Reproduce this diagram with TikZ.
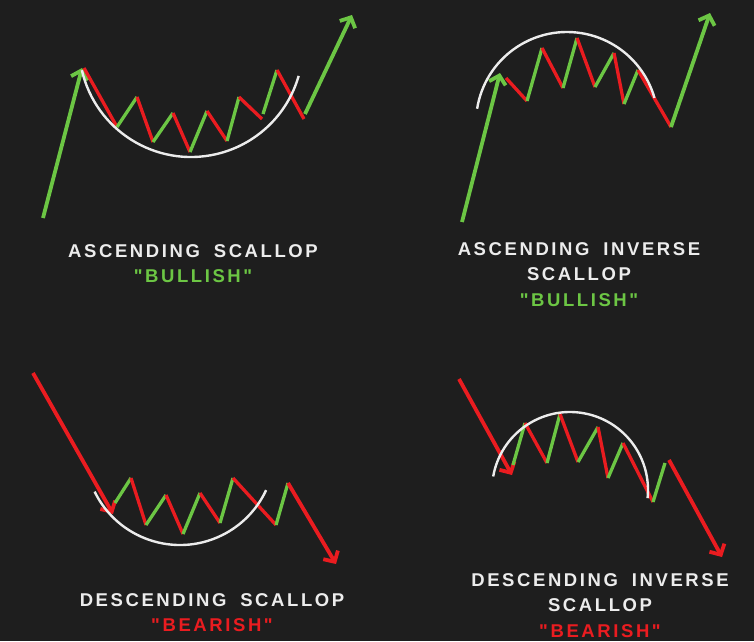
\documentclass[tikz,border=0pt]{standalone}
\usepackage{fontspec}
\usepackage{tikz}
\usetikzlibrary{arrows.meta}
\newfontfamily\capfont[LetterSpace=14,WordSpace=1.8]{Liberation Sans}
\definecolor{bullgreen}{RGB}{108,198,68}
\definecolor{bearred}{RGB}{234,28,32}
\definecolor{chalk}{RGB}{236,236,236}
\definecolor{board}{RGB}{30,30,30}

\begin{document}
\begin{tikzpicture}[x=1pt,y=-1pt,>={Straight Barb[length=8pt,width=17pt]},
  up/.style={bullgreen,line width=3.3pt},
  down/.style={bearred,line width=3.3pt},
  trend/.style={line width=3.8pt},
  rim/.style={chalk,line width=2.4pt},
  caption/.style={anchor=north,inner sep=0pt,align=center,text=chalk,
    font=\capfont\bfseries\fontsize{18.5}{25.5}\selectfont}]
\fill[board] (0,0) rectangle (754,641);
\useasboundingbox (0,0) rectangle (754,641);

\draw[up,trend,->] (43,218) -- (82,68);
\draw[down] (84,68) -- (117,127);
\draw[up] (117,127) -- (137,97);
\draw[down] (137,97) -- (153,142);
\draw[up] (153,142) -- (173,113);
\draw[down] (173,113) -- (190,152);
\draw[up] (190,152) -- (207,111);
\draw[down] (207,111) -- (227,141);
\draw[up] (227,141) -- (239,97);
\draw[down] (239,97) -- (262,119);
\draw[up] (263,114) -- (277,70);
\draw[down] (277,70) -- (304,119);
\draw[up,trend,->] (305,114) -- (352,15);
\coordinate (cupA) at (191,45);
\draw[rim] (cupA) ++(167:112) arc[start angle=167,end angle=16,radius=112];

\draw[up,trend,->] (462,222) -- (500,73);
\draw[down] (506,78) -- (527,101);
\draw[up] (527,101) -- (542,48);
\draw[down] (542,48) -- (563,88);
\draw[up] (563,88) -- (577,38);
\draw[down] (577,38) -- (595,87);
\draw[up] (595,87) -- (614,53);
\draw[down] (614,53) -- (624,104);
\draw[up] (624,104) -- (638,70);
\draw[down] (638,70) -- (671,127);
\draw[up,trend,->] (671,127) -- (710,13);
\coordinate (capB) at (567,123);
\draw[rim] (capB) ++(-171:91) arc[start angle=-171,end angle=-16,radius=91];

\draw[down,trend,->] (33,373) -- (113,514);
\draw[up] (115,503) -- (131,478);
\draw[down] (131,478) -- (146,525);
\draw[up] (146,525) -- (166,495);
\draw[down] (166,495) -- (183,534);
\draw[up] (183,534) -- (200,493);
\draw[down] (200,493) -- (220,523);
\draw[up] (220,523) -- (233,478);
\draw[down] (233,478) -- (276,525);
\draw[up] (276,525) -- (288,483);
\draw[down,trend,->] (288,483) -- (336,564);
\coordinate (cupC) at (180,450);
\draw[rim] (cupC) ++(154:95) arc[start angle=154,end angle=25,radius=95];

\draw[down,trend,->] (459,379) -- (512,475);
\draw[up] (513,465) -- (525,423);
\draw[down] (525,423) -- (547,463);
\draw[up] (547,463) -- (560,414);
\draw[down] (560,414) -- (578,462);
\draw[up] (578,462) -- (598,427);
\draw[down] (598,427) -- (608,478);
\draw[up] (608,478) -- (623,443);
\draw[down] (623,443) -- (653,502);
\draw[up] (653,502) -- (665,463);
\draw[down,trend,->] (669,460) -- (722,557);
\coordinate (capD) at (570,490);
\draw[rim] (capD) ++(-170:78) arc[start angle=-170,end angle=6,radius=78];

\node[caption] (nameA) at (193,244) {ASCENDING SCALLOP\\\textcolor{bullgreen}{"BULLISH"}};
\node[caption] (nameB) at (579,242) {ASCENDING INVERSE\\SCALLOP\\\textcolor{bullgreen}{"BULLISH"}};
\node[caption] (nameC) at (212,593) {DESCENDING SCALLOP\\\textcolor{bearred}{"BEARISH"}};
\node[caption] (nameD) at (600,573) {DESCENDING INVERSE\\SCALLOP\\\textcolor{bearred}{"BEARISH"}};
\end{tikzpicture}
\end{document}
